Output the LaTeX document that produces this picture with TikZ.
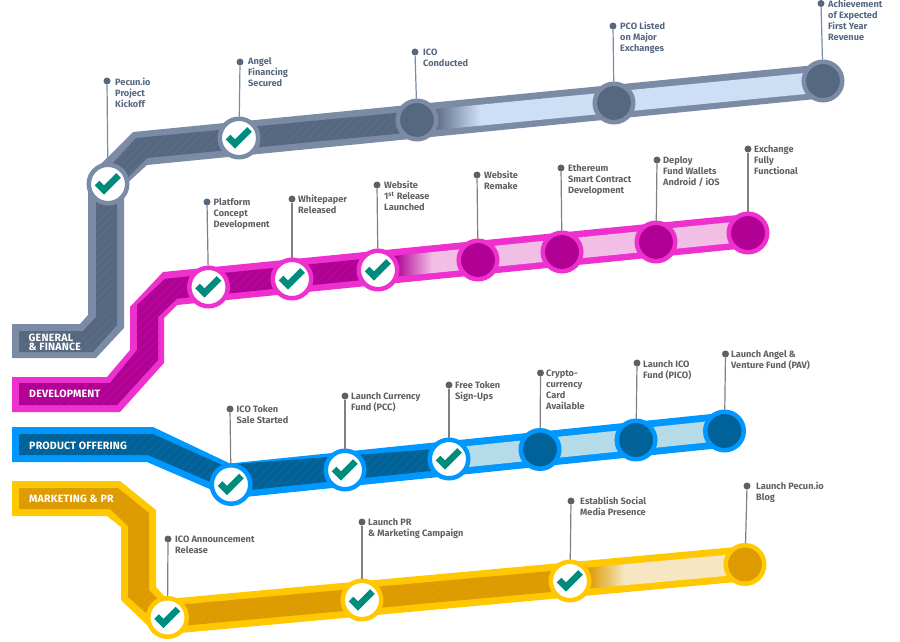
\documentclass[tikz,border=0pt]{standalone}
\usepackage{fontspec}
\setmainfont{Fira Sans}
\usetikzlibrary{patterns.meta}

\definecolor{gfline}{HTML}{7B8BA6}
\definecolor{gfdark}{HTML}{566780}
\definecolor{gflight}{HTML}{CDDFF5}
\definecolor{devline}{HTML}{EE30CF}
\definecolor{devdark}{HTML}{B10094}
\definecolor{devlight}{HTML}{F1BFE6}
\definecolor{prodline}{HTML}{0098FF}
\definecolor{proddark}{HTML}{016299}
\definecolor{prodlight}{HTML}{B5DBE9}
\definecolor{mktline}{HTML}{FFC800}
\definecolor{mktdark}{HTML}{DD9B00}
\definecolor{mktlight}{HTML}{F6E6C1}
\definecolor{ticky}{HTML}{008C7C}
\definecolor{stemgrey}{HTML}{5F6064}

\begin{document}
\begin{tikzpicture}[
    x=1pt,
    y=-1pt,
    line join=miter,
    band/.style={
        preaction={fill=#1},
        pattern={Lines[angle=45,distance=6pt,line width=.5pt]},
        pattern color=#1!93!white
    },
    doneNode/.style={
        circle,
        inner sep=0pt,
        minimum size=38.5pt,
        line width=4.5pt,
        draw=#1,
        fill=white
    },
    openNode/.style 2 args={
        circle,
        inner sep=0pt,
        minimum size=38.5pt,
        line width=4.5pt,
        draw=#1,
        fill=#2
    },
    stemdot/.style={
        circle,
        inner sep=0pt,
        minimum size=7pt,
        fill=#1
    },
    stem/.style={line width=1.2pt,draw=#1},
    caption/.style={
        anchor=north west,
        inner sep=0pt,
        yshift=-1pt,
        align=left,
        text=#1,
        font=\fontsize{9.2}{11}\selectfont\bfseries,
        execute at begin node=\strut
    },
    title/.style={
        anchor=west,
        inner sep=0pt,
        align=left,
        text=white,
        font=\fontsize{10.6}{8.8}\selectfont\bfseries\addfontfeature{LetterSpace=2}
    },
    tick/.pic={
        \draw[ticky,line width=6.4pt,line join=miter]
            (-11,-1) -- (-4,6) -- (10.5,-8.5);
    }
]

\useasboundingbox (0,0) rectangle (900,642);

% -------------------------------------------------
% General & Finance
% -------------------------------------------------

\fill[gfline]
    (12,324) -- (80,324) -- (88,315) -- (88,176) -- (107,158) -- (133,132)
    -- (823,64.3) -- (823,98.3) -- (147,165) -- (124,186) -- (124,328)
    -- (96,358) -- (12,358) -- cycle;

\path[band=gfdark]
    (19,331) -- (83,331) -- (96,317) -- (96,180) -- (113,163) -- (136,138)
    -- (433,109.3) -- (433,130.3) -- (147,158) -- (117,188) -- (117,325)
    -- (93,352) -- (19,352) -- cycle;

\path[left color=gfdark,right color=gflight]
    (433,109.3) -- (480,104.7) -- (480,125.7) -- (433,130.3) -- cycle;

\path[band=gflight]
    (480,104.7) -- (823,71.3) -- (823,92.3) -- (480,125.7) -- cycle;

% -------------------------------------------------
% Development
% -------------------------------------------------

\fill[devline]
    (12,377) -- (107,377) -- (130,350) -- (130,307) -- (163,272)
    -- (748,214) -- (748,248) -- (177,305) -- (164,318) -- (164,363)
    -- (120,412) -- (12,412) -- cycle;

\path[band=devdark]
    (19,383) -- (110,383) -- (137,350) -- (137,305) -- (165,278.8)
    -- (395,255.8) -- (395,276.8) -- (177,298.6) -- (158,317) -- (158,360)
    -- (117,405) -- (19,405) -- cycle;

\path[left color=devdark,right color=devlight]
    (395,255.8) -- (432,252.1) -- (432,273.1) -- (395,276.8) -- cycle;

\path[band=devlight]
    (432,252.1) -- (748,220.5) -- (748,241.5) -- (432,273.1) -- cycle;

% -------------------------------------------------
% Product offering
% -------------------------------------------------

\fill[prodline]
    (12,427) -- (153,427) -- (230,463.5) -- (725,412.6) -- (725,447.6)
    -- (240,497.5) -- (212,490) -- (147,462) -- (12,462) -- cycle;

\path[band=proddark]
    (19,434) -- (153,434) -- (222,465) -- (449,448) -- (449,469)
    -- (240,491) -- (208,481) -- (148,455) -- (19,455) -- cycle;

\path[band=prodlight]
    (449,448) -- (725,419.6) -- (725,440.6) -- (449,469) -- cycle;

% -------------------------------------------------
% Marketing & PR
% -------------------------------------------------

\fill[mktline]
    (12,481) -- (120,481) -- (156,510) -- (156,587) -- (167,599)
    -- (745,546.2) -- (745,581.2) -- (180,633) -- (147,625) -- (121,600)
    -- (121,527) -- (107,516) -- (12,516) -- cycle;

\path[band=mktdark]
    (19,488) -- (118,488) -- (149,513) -- (149,590) -- (165,606)
    -- (588,567.6) -- (588,588.6) -- (165,627.4) -- (146,613) -- (128,597)
    -- (128,526) -- (110,509) -- (19,509) -- cycle;

\path[left color=mktdark,right color=mktlight]
    (588,567.6) -- (625,564.2) -- (625,585.2) -- (588,588.6) -- cycle;

\path[band=mktlight]
    (625,564.2) -- (745,553.2) -- (745,574.2) -- (625,585.2) -- cycle;

% -------------------------------------------------
% Stem dots
% -------------------------------------------------

\node[stemdot=gfdark] (dotKick) at (107,81) {};
\node[stemdot=gfdark] (dotAngel) at (240,62) {};
\node[stemdot=gfdark] (dotIco) at (415,52) {};
\node[stemdot=gfdark] (dotPco) at (613,26) {};
\node[stemdot=gfdark] (dotRev) at (821,3.5) {};

\node[stemdot=gfdark] (dotPlat) at (207,202) {};
\node[stemdot=stemgrey] (dotWhite) at (292,199) {};
\node[stemdot=stemgrey] (dotWeb) at (377,185) {};
\node[stemdot=stemgrey] (dotRemake) at (477,175) {};
\node[stemdot=stemgrey] (dotEth) at (561,168) {};
\node[stemdot=stemgrey] (dotFund) at (657,160) {};
\node[stemdot=stemgrey] (dotExch) at (748,149) {};

\node[stemdot=stemgrey] (dotToken) at (230,409) {};
\node[stemdot=stemgrey] (dotPcc) at (345,396) {};
\node[stemdot=stemgrey] (dotFree) at (449,385) {};
\node[stemdot=stemgrey] (dotCard) at (540.5,373) {};
\node[stemdot=stemgrey] (dotPico) at (637,363) {};
\node[stemdot=stemgrey] (dotPav) at (725.5,354) {};

\node[stemdot=stemgrey] (dotAnn) at (168,539) {};
\node[stemdot=stemgrey] (dotCamp) at (362,522) {};
\node[stemdot=stemgrey] (dotSoc) at (571,501) {};
\node[stemdot=stemgrey] (dotBlog) at (747,486) {};

% -------------------------------------------------
% Milestones
% -------------------------------------------------

\node[doneNode=gfline] (genKick) at (108,184) {};
\node[doneNode=gfline] (genAngel) at (239,138) {};
\node[openNode={gfline}{gfdark}] (genIco) at (417,120) {};
\node[openNode={gfline}{gfdark}] (genPco) at (614,103) {};
\node[openNode={gfline}{gfdark}] (genRev) at (823,81) {};

\node[doneNode=devline] (devPlat) at (208.5,287) {};
\node[doneNode=devline] (devWhite) at (292,279) {};
\node[doneNode=devline] (devWeb) at (378,270) {};
\node[openNode={devline}{devdark}] (devRemake) at (478,260) {};
\node[openNode={devline}{devdark}] (devEth) at (562,252) {};
\node[openNode={devline}{devdark}] (devFund) at (656,242) {};
\node[openNode={devline}{devdark}] (devExch) at (748,233) {};

\node[doneNode=prodline] (prodToken) at (231,484.5) {};
\node[doneNode=prodline] (prodPcc) at (345,470) {};
\node[doneNode=prodline] (prodFree) at (449,459) {};
\node[openNode={prodline}{proddark}] (prodCard) at (540,449.5) {};
\node[openNode={prodline}{proddark}] (prodPico) at (636,440) {};
\node[openNode={prodline}{proddark}] (prodPav) at (724.5,431) {};

\node[doneNode=mktline] (mktAnn) at (167.5,617.5) {};
\node[doneNode=mktline] (mktCamp) at (362,600) {};
\node[doneNode=mktline] (mktSoc) at (570,581) {};
\node[openNode={mktline}{mktdark}] (mktBlog) at (745,564.5) {};

% -------------------------------------------------
% Stems
% -------------------------------------------------

\draw[stem=gfline] (dotKick) -- (genKick);
\draw[stem=gfline] (dotAngel) -- (genAngel);
\draw[stem=gfline] (dotIco) -- (genIco);
\draw[stem=gfline] (dotPco) -- (genPco);
\draw[stem=gfline] (dotRev) -- (genRev);

\draw[stem=gray] (dotPlat) -- (devPlat);
\draw[stem=gray] (dotWhite) -- (devWhite);
\draw[stem=gray] (dotWeb) -- (devWeb);
\draw[stem=gray] (dotRemake) -- (devRemake);
\draw[stem=gray] (dotEth) -- (devEth);
\draw[stem=gray] (dotFund) -- (devFund);
\draw[stem=gray] (dotExch) -- (devExch);

\draw[stem=gray] (dotToken) -- (prodToken);
\draw[stem=gray] (dotPcc) -- (prodPcc);
\draw[stem=gray] (dotFree) -- (prodFree);
\draw[stem=gray] (dotCard) -- (prodCard);
\draw[stem=gray] (dotPico) -- (prodPico);
\draw[stem=gray] (dotPav) -- (prodPav);

\draw[stem=gray] (dotAnn) -- (mktAnn);
\draw[stem=gray] (dotCamp) -- (mktCamp);
\draw[stem=gray] (dotSoc) -- (mktSoc);
\draw[stem=gray] (dotBlog) -- (mktBlog);

% -------------------------------------------------
% Check marks
% -------------------------------------------------

\pic at (genKick) {tick};
\pic at (genAngel) {tick};
\pic at (devPlat) {tick};
\pic at (devWhite) {tick};
\pic at (devWeb) {tick};
\pic at (prodToken) {tick};
\pic at (prodPcc) {tick};
\pic at (prodFree) {tick};
\pic at (mktAnn) {tick};
\pic at (mktCamp) {tick};
\pic at (mktSoc) {tick};

% -------------------------------------------------
% Captions
% -------------------------------------------------

\node[caption=gfdark] (txtKick) at (115,77.3) {Pecun.io\\Project\\Kickoff};
\node[caption=gfdark] (txtAngel) at (248,56.3) {Angel\\Financing\\Secured};
\node[caption=gfdark] (txtIco) at (423,47.3) {ICO\\Conducted};
\node[caption=gfdark] (txtPco) at (620,21.3) {PCO Listed\\on Major\\Exchanges};
\node[caption=gfdark] (txtRev) at (828,-0.7) {Achievement\\of Expected\\First Year\\Revenue};

\node[caption=stemgrey] (txtPlat) at (213.5,197.3) {Platform\\Concept\\Development};
\node[caption=stemgrey] (txtWhite) at (298,194.3) {Whitepaper\\Released};
\node[caption=stemgrey] (txtWeb) at (384,180.3) {Website\\1\textsuperscript{st} Release\\Launched};
\node[caption=stemgrey] (txtRemake) at (484,170.3) {Website\\Remake};
\node[caption=stemgrey] (txtEth) at (568,163.3) {Ethereum\\Smart Contract\\Development};
\node[caption=stemgrey] (txtFund) at (663,155.3) {Deploy\\Fund Wallets\\Android / iOS};
\node[caption=stemgrey] (txtExch) at (754,144.3) {Exchange\\Fully\\Functional};

\node[caption=stemgrey] (txtToken) at (236.5,404.3) {ICO Token\\Sale Started};
\node[caption=stemgrey] (txtPcc) at (351,391.3) {Launch Currency\\Fund (PCC)};
\node[caption=stemgrey] (txtFree) at (455,380.3) {Free Token\\Sign-Ups};
\node[caption=stemgrey] (txtCard) at (546,368.3) {Crypto-\\currency\\Card\\Available};
\node[caption=stemgrey] (txtPico) at (643,359.3) {Launch ICO\\Fund (PICO)};
\node[caption=stemgrey] (txtPav) at (731,349.3) {Launch Angel \&\\Venture Fund (PAV)};

\node[caption=stemgrey] (txtAnn) at (175,534.3) {ICO Announcement\\Release};
\node[caption=stemgrey] (txtCamp) at (368,517.3) {Launch PR\\\& Marketing Campaign};
\node[caption=stemgrey] (txtSoc) at (580,496.3) {Establish Social\\Media Presence};
\node[caption=stemgrey] (txtBlog) at (756,481.3) {Launch Pecun.io\\Blog};

% -------------------------------------------------
% Line titles
% -------------------------------------------------

\node[title] (titleGen) at (28.5,342) {GENERAL\\\& FINANCE};
\node[title] (titleDev) at (29,394) {DEVELOPMENT};
\node[title] (titleProd) at (29,445.5) {PRODUCT OFFERING};
\node[title] (titleMkt) at (29,499) {MARKETING \& PR};

\end{tikzpicture}
\end{document}
